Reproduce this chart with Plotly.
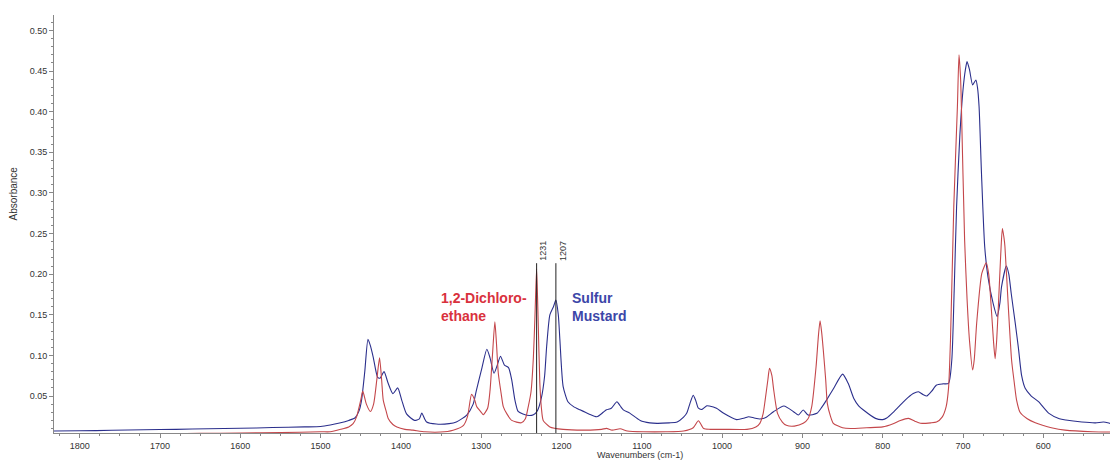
import plotly.graph_objects as go

# Sulfur Mustard spectrum (wavenumber cm-1, absorbance)
sm_wn = [1832, 1800, 1760, 1720, 1680, 1640, 1600, 1560, 1520, 1500, 1488, 1475, 1465, 1457, 1452, 1449,
         1445, 1441, 1438, 1434.5, 1429, 1426, 1421, 1416, 1410, 1404, 1399, 1393, 1383, 1377, 1374, 1370,
         1368, 1356, 1340, 1331, 1318, 1310, 1306, 1299, 1293, 1289, 1284, 1280, 1276, 1271, 1266, 1262,
         1258, 1254, 1248, 1240, 1235, 1230, 1225, 1221, 1218.5, 1214.5, 1210, 1207, 1204, 1202, 1198,
         1192, 1185, 1177, 1166, 1156, 1148, 1144, 1138, 1131, 1127, 1123, 1115, 1102, 1090, 1081, 1066,
         1056, 1048, 1044, 1040, 1036, 1033, 1029.5, 1025, 1019, 1016, 1007, 998, 982, 972, 967, 960, 953,
         945, 936, 923, 911, 905, 899, 893, 882, 876, 870, 861, 850, 843, 836, 830, 824, 809, 800, 795,
         787, 780, 772, 762, 755.5, 750, 745, 739, 733, 725, 718, 714, 711, 708, 704, 700, 697, 695, 692,
         688, 684, 682, 680, 677, 673, 669, 662.5, 657.5, 654, 652, 646, 643, 640, 635, 631, 627, 622.6,
         615, 606, 593, 580, 572, 552, 535, 525, 515, 507]
sm_abs = [0.0069, 0.0072, 0.0078, 0.0085, 0.0090, 0.0098, 0.0103, 0.0112, 0.0120, 0.0125, 0.0143, 0.0170,
          0.0200, 0.0233, 0.032, 0.045, 0.080, 0.1198, 0.112, 0.098, 0.073, 0.072, 0.080, 0.066, 0.053,
          0.060, 0.045, 0.028, 0.020, 0.022, 0.029, 0.021, 0.018, 0.0155, 0.016, 0.018, 0.0266, 0.040,
          0.057, 0.085, 0.1075, 0.097, 0.078, 0.088, 0.099, 0.088, 0.085, 0.070, 0.045, 0.031, 0.028,
          0.026, 0.027, 0.032, 0.048, 0.075, 0.111, 0.150, 0.160, 0.168, 0.150, 0.119, 0.062, 0.043,
          0.037, 0.033, 0.028, 0.0245, 0.030, 0.033, 0.035, 0.043, 0.038, 0.033, 0.029, 0.020, 0.017,
          0.0164, 0.017, 0.018, 0.024, 0.029, 0.041, 0.051, 0.045, 0.035, 0.0336, 0.038, 0.0377, 0.035,
          0.0287, 0.021, 0.023, 0.0245, 0.023, 0.0217, 0.024, 0.0307, 0.0377, 0.0307, 0.0266, 0.0328,
          0.0266, 0.0287, 0.036, 0.045, 0.0595, 0.077, 0.0656, 0.047, 0.038, 0.0328, 0.0225, 0.021,
          0.023, 0.030, 0.037, 0.045, 0.053, 0.0553, 0.052, 0.050, 0.056, 0.0635, 0.065, 0.0656, 0.094,
          0.18, 0.283, 0.370, 0.427, 0.452, 0.4617, 0.452, 0.433, 0.439, 0.430, 0.406, 0.324, 0.234,
          0.197, 0.164, 0.1477, 0.165, 0.1846, 0.210, 0.200, 0.1765, 0.140, 0.109, 0.075, 0.0595, 0.050,
          0.043, 0.0286, 0.022, 0.0204, 0.018, 0.017, 0.018, 0.016, 0.015]

# 1,2-Dichloroethane spectrum
dce_wn = [1760, 1700, 1650, 1600, 1550, 1500, 1488, 1475, 1465, 1459.5, 1455, 1450, 1447.5, 1443, 1438,
          1434, 1430, 1426.6, 1424, 1422, 1418, 1415.8, 1410, 1405, 1395, 1385, 1370, 1351, 1335, 1322,
          1317, 1312, 1308, 1305.7, 1300, 1297.5, 1292, 1289, 1286, 1283, 1281, 1278.7, 1275, 1272.5,
          1268, 1262, 1250, 1245, 1241.4, 1238, 1235, 1233, 1231, 1229, 1227, 1225, 1222.8, 1214.5, 1198,
          1170, 1150, 1144, 1137, 1127, 1118, 1098, 1070, 1048, 1036, 1029.5, 1023, 1015, 998, 969, 958,
          953, 949, 946.4, 943, 941, 938, 936, 931, 925, 920, 910, 899, 893, 888.4, 883, 880, 878, 876,
          874, 871, 869, 865, 861.5, 850, 840, 820, 800, 787, 778, 768, 760, 753, 740, 733, 726, 721, 718,
          715.6, 711.5, 707, 705, 703, 702, 698, 695, 692, 688, 686, 683, 676.6, 671, 668, 666, 662, 660,
          658, 656, 653, 651, 649, 647.8, 643.6, 639.5, 636, 633.3, 629, 620, 610, 601, 590, 573, 539, 507]
dce_abs = [0.003, 0.0035, 0.004, 0.0045, 0.005, 0.006, 0.006, 0.009, 0.012, 0.016, 0.025, 0.045, 0.056,
           0.040, 0.031, 0.040, 0.070, 0.097, 0.070, 0.045, 0.030, 0.0225, 0.015, 0.012, 0.009, 0.008,
           0.006, 0.0057, 0.008, 0.014, 0.025, 0.052, 0.045, 0.037, 0.030, 0.027, 0.035, 0.057, 0.100,
           0.1415, 0.115, 0.078, 0.052, 0.037, 0.028, 0.020, 0.017, 0.022, 0.037, 0.055, 0.098, 0.150,
           0.207, 0.140, 0.066, 0.035, 0.020, 0.012, 0.009, 0.008, 0.009, 0.0102, 0.008, 0.0097, 0.007,
           0.006, 0.006, 0.007, 0.011, 0.0196, 0.010, 0.009, 0.009, 0.009, 0.012, 0.0164, 0.028, 0.045,
           0.070, 0.084, 0.075, 0.0595, 0.0287, 0.018, 0.014, 0.013, 0.0164, 0.022, 0.037, 0.086, 0.125,
           0.1427, 0.128, 0.1066, 0.070, 0.041, 0.025, 0.0164, 0.011, 0.010, 0.011, 0.012, 0.016, 0.020,
           0.0225, 0.019, 0.0164, 0.017, 0.018, 0.024, 0.037, 0.060, 0.119, 0.283, 0.406, 0.470, 0.440,
           0.406, 0.242, 0.170, 0.119, 0.082, 0.095, 0.1395, 0.201, 0.214, 0.200, 0.176, 0.117, 0.096,
           0.120, 0.160, 0.225, 0.256, 0.245, 0.234, 0.160, 0.094, 0.065, 0.045, 0.030, 0.022, 0.017,
           0.014, 0.011, 0.008, 0.006, 0.0057]

peak_marks = [1231, 1207]
y_ticks = [0.05, 0.10, 0.15, 0.20, 0.25, 0.30, 0.35, 0.40, 0.45, 0.50]
x_ticks = [1800, 1700, 1600, 1500, 1400, 1300, 1200, 1100, 1000, 900, 800, 700, 600, 500]

Y_MIN, Y_MAX = 0.0045, 0.519
MARK_TOP = 0.2135
FONT = "Liberation Sans, Arial, sans-serif"

fig = go.Figure()
fig.add_trace(go.Scatter(x=sm_wn, y=sm_abs, mode="lines",
                         line=dict(color="#2b2f8c", width=1.1, shape="spline", smoothing=0.6),
                         name="Sulfur Mustard", showlegend=False))
fig.add_trace(go.Scatter(x=dce_wn, y=dce_abs, mode="lines",
                         line=dict(color="#c4474b", width=1.1, shape="spline", smoothing=0.6),
                         name="1,2-Dichloroethane", showlegend=False))

for pk in peak_marks:
    fig.add_shape(type="line", x0=pk, x1=pk, y0=Y_MIN, y1=MARK_TOP, xref="x", yref="y",
                  line=dict(color="#222222", width=1))
    fig.add_annotation(x=pk, y=MARK_TOP, text=str(pk), textangle=-90, showarrow=False,
                       xanchor="left", yanchor="bottom",
                       font=dict(family=FONT, size=9, color="#333333"))

fig.add_annotation(x=1352, y=0.16, text="1,2-Dichloro-<br>ethane", showarrow=False, align="left",
                   xanchor="left", yanchor="middle",
                   font=dict(family=FONT, size=14, color="#d9313d", weight="bold"))
fig.add_annotation(x=1190, y=0.16, text="Sulfur<br>Mustard", showarrow=False, align="left",
                   xanchor="left", yanchor="middle",
                   font=dict(family=FONT, size=14, color="#3c46a8", weight="bold"))

fig.add_annotation(x=0.551, y=-0.053, xref="paper", yref="paper", text="Wavenumbers (cm-1)",
                   showarrow=False, xanchor="center", yanchor="middle",
                   font=dict(family=FONT, size=9, color="#333333"))
fig.add_annotation(x=-0.038, y=0.572, xref="paper", yref="paper", text="Absorbance", textangle=-90,
                   showarrow=False, xanchor="center", yanchor="middle",
                   font=dict(family=FONT, size=10, color="#333333"))

# page body has an 8px default margin; the figure is sized so the plot area lands
# at x 54..1118 and y 15..433 in the window
fig.update_layout(
    width=1110, height=455,
    margin=dict(l=46, r=0, t=7, b=30, autoexpand=False),
    paper_bgcolor="white", plot_bgcolor="white",
    font=dict(family=FONT, size=9, color="#333333"),
    xaxis=dict(range=[1832, 507], tickvals=x_ticks, showgrid=False, zeroline=False, automargin=False,
               showline=True, linecolor="#888888", linewidth=1, ticks="outside", ticklen=4,
               tickcolor="#888888", minor=dict(dtick=25, ticks="outside", ticklen=2, tickcolor="#888888")),
    yaxis=dict(range=[Y_MIN, Y_MAX], tickvals=y_ticks, tickformat=".2f", showgrid=False, zeroline=False,
               automargin=False,
               showline=True, linecolor="#888888", linewidth=1, ticks="outside", ticklen=4,
               tickcolor="#888888", minor=dict(dtick=0.01, ticks="outside", ticklen=2, tickcolor="#888888")),
)

fig.write_html("out.html")
